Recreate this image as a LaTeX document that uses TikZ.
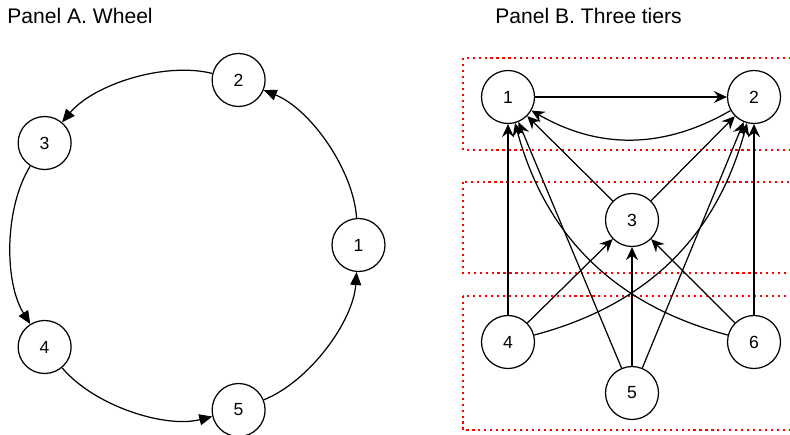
\documentclass[tikz,border=0pt]{standalone}
\usepackage{fontspec}
\setmainfont{Liberation Sans}
\usetikzlibrary{arrows.meta,positioning}
\begin{document}
\begin{tikzpicture}[on grid,
  vertex/.style={draw, circle, minimum size=1.06cm, inner sep=0pt, line width=0.7pt, font=\fontsize{10}{12}\selectfont},
  wheel/.style={-{Triangle[length=2.6mm,width=2.2mm]}, line width=0.7pt, bend right=32, looseness=0.8},
  link/.style={-{Stealth[length=2.6mm,width=2.4mm,inset=0.9mm]}, line width=0.7pt},
  tier/.style={draw=red, line width=0.6pt, dash pattern=on 1.2pt off 2.2pt},
  title/.style={anchor=base west, inner sep=0pt, font=\fontsize{12}{14}\selectfont}]
    \clip (0,0) rectangle (15.8,8.68);
      \node[title] (TA) at (0.14,8.2) {Panel A. Wheel};
      \node[title] (TB) at (9.9,8.2) {Panel B. Three tiers};
    \begin{scope}[shift={(3.7,3.78)}]
      \node[vertex] (A1) at (0:3.47) {1};
      \node[vertex] (A2) at (72:3.47) {2};
      \node[vertex] (A3) at (144:3.47) {3};
      \node[vertex] (A4) at (216:3.47) {4};
      \node[vertex] (A5) at (288:3.47) {5};
    \end{scope}
    \draw [wheel] (A1) to (A2);
    \draw [wheel] (A2) to (A3);
    \draw [wheel] (A3) to (A4);
    \draw [wheel] (A4) to (A5);
    \draw [wheel] (A5) to (A1);
    \draw [tier] (9.26,7.52) rectangle (16.2,5.68);
    \draw [tier] (9.26,5.04) rectangle (16.2,3.22);
    \draw [tier] (9.26,2.76) rectangle (16.2,0.08);
      \node[vertex] (B1) at (10.16,6.74) {1};
      \node[vertex] (B2) [right=4.92cm of B1] {2};
      \node[vertex] (B3) [below right=2.46cm and 2.48cm of B1] {3};
      \node[vertex] (B4) [below=4.9cm of B1] {4};
      \node[vertex] (B6) [below=4.9cm of B2] {6};
      \node[vertex] (B5) [below=3.46cm of B3] {5};
    \draw [link] (B1) -- (B2);
    \draw [link] (B2) to [bend left=30] (B1);
    \draw [link] (B3) -- (B1);
    \draw [link] (B3) -- (B2);
    \draw [link] (B4) -- (B1);
    \draw [link] (B4) -- (B3);
    \draw [link] (B4) to [bend right=30] (B2);
    \draw [link] (B5) -- (B1);
    \draw [link] (B5) -- (B3);
    \draw [link] (B5) -- (B2);
    \draw [link] (B6) to [bend left=30] (B1);
    \draw [link] (B6) -- (B3);
    \draw [link] (B6) -- (B2);
\end{tikzpicture}
\end{document}
